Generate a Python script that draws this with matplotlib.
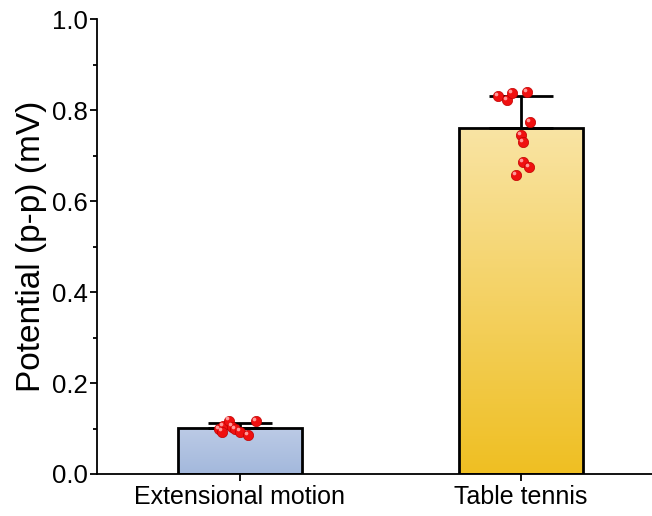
import numpy as np
import matplotlib.pyplot as plt
from matplotlib.colors import LinearSegmentedColormap

plt.rcParams['font.family'] = ['Liberation Sans', 'DejaVu Sans']

categorias = ['Extensional motion', 'Table tennis']
puntos_ext = [0.098, 0.105, 0.117, 0.104, 0.098, 0.093, 0.086, 0.116, 0.093]
dx_ext = [-0.072, -0.058, -0.038, -0.027, -0.015, 0.002, 0.030, 0.059, -0.063]
puntos_tt = [0.831, 0.822, 0.837, 0.839, 0.774, 0.745, 0.730, 0.686, 0.675, 0.657]
dx_tt = [-0.083, -0.051, -0.032, 0.022, 0.032, -0.001, 0.006, 0.005, 0.027, -0.019]

datos = [puntos_ext, puntos_tt]
desplaz = [dx_ext, dx_tt]
medias = [np.mean(d) for d in datos]
desv = [np.std(d, ddof=1) for d in datos]
x = np.array([1, 2])
ancho = 0.44

# degradados (arriba -> abajo)
grad_colores = [('#bccbe6', '#a3b8dc'), ('#f9e4a4', '#efbf22')]

fig = plt.figure(figsize=(6.52, 5.16), dpi=100)
ax = fig.add_axes([0.149, 0.0814, 0.851, 0.8817])

barras = ax.bar(x, medias, ancho, color='none', edgecolor='black', linewidth=2, zorder=3)
for b, (c_top, c_bot) in zip(barras, grad_colores):
    cmap = LinearSegmentedColormap.from_list('g', [c_bot, c_top])
    x0, y0 = b.get_x(), b.get_y()
    grad = np.linspace(0, 1, 256).reshape(-1, 1)
    im = ax.imshow(grad, cmap=cmap, aspect='auto', origin='lower',
                   extent=[x0, x0 + b.get_width(), y0, y0 + b.get_height()], zorder=2)
    im.set_clip_path(b)

ax.errorbar(x, medias, yerr=[[0, 0], desv], fmt='none', ecolor='black',
            elinewidth=2, capsize=23, capthick=2, zorder=4)

for i in range(2):
    ax.scatter(x[i] + np.array(desplaz[i]), datos[i], s=55, color='#f01010',
               edgecolor='#c00000', linewidth=0.5, zorder=5)
    ax.scatter(x[i] + np.array(desplaz[i]) - 0.007, np.array(datos[i]) + 0.005, s=7,
               color='#ff9a9a', linewidth=0, zorder=6)

ax.set_xlim(0.494, 2.465)
ax.set_ylim(0, 1.0)
ax.set_xticks(x)
ax.set_xticklabels(categorias, fontsize=18)
ax.set_yticks(np.arange(0, 1.01, 0.2))
ax.set_yticks(np.arange(0.1, 1.0, 0.2), minor=True)
ax.yaxis.set_major_formatter(plt.FormatStrFormatter('%.1f'))
ax.tick_params(axis='y', labelsize=18.5, direction='out', length=5, width=1.3, pad=2)
ax.tick_params(axis='y', which='minor', direction='out', length=3, width=1.3)
ax.tick_params(axis='x', direction='out', length=5, width=1.3, pad=3)
ax.spines['top'].set_visible(False)
ax.spines['right'].set_visible(False)
ax.spines['left'].set_linewidth(1.3)
ax.spines['bottom'].set_linewidth(1.3)
ax.set_ylabel('Potential (p-p) (mV)', fontsize=24, labelpad=3)

fig.savefig('out.png', dpi=100)
